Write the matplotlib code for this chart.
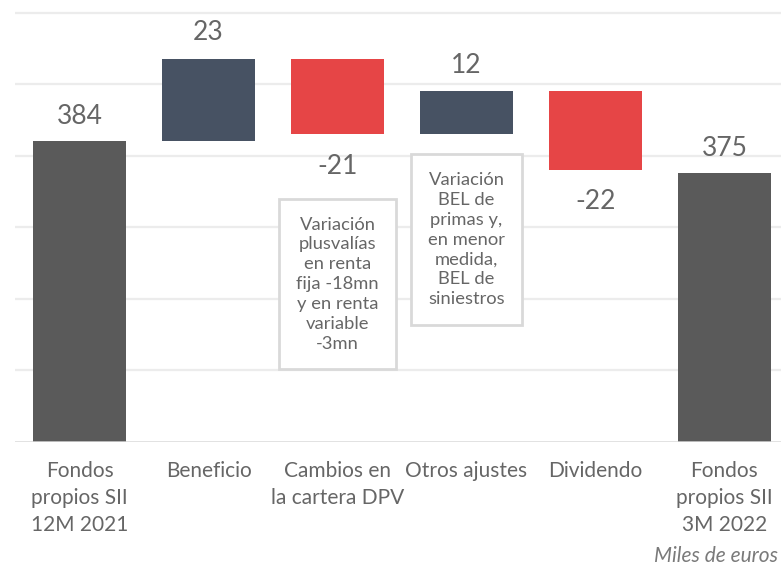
import numpy as np
import matplotlib.pyplot as plt

# --- Data ---
categories = ['Fondos\npropios SII\n12M 2021', 'Beneficio', 'Cambios en\nla cartera DPV',
              'Otros ajustes', 'Dividendo', 'Fondos\npropios SII\n3M 2022']
values = [384, 23, -21, 12, -22, 375]
kinds = ['total', 'delta', 'delta', 'delta', 'delta', 'total']
value_labels = ['384', '23', '-21', '12', '-22', '375']
notes = {2: 'Variación\nplusvalías\nen renta\nfija -18mn\ny en renta\nvariable\n-3mn',
         3: 'Variación\nBEL de\nprimas y,\nen menor\nmedida,\nBEL de\nsiniestros'}
note_y = {2: 344, 3: 356.5}
unit_label = 'Miles de euros'

# --- Colours ---
c_total = '#5a5a5a'
c_up = '#475263'
c_down = '#e64546'
c_text = '#666666'

plt.rcParams['font.family'] = ['Lato', 'DejaVu Sans']

fig = plt.figure(figsize=(7.81, 5.68), dpi=100)
ax = fig.add_axes([15 / 781, 126.5 / 568, 774 / 781, 441.5 / 568])

y_min, y_max = 300, 423.5
ax.set_xlim(-0.5, 5.5)
ax.set_ylim(y_min, y_max)

# gridlines
for g in np.arange(320, 421, 20):
    ax.axhline(g, color='#ececec', lw=1.6, zorder=0)
ax.axhline(y_min, color='#d9d9d9', lw=1.8, zorder=3)

# --- Waterfall bars ---
running = 0
x = np.arange(len(values))
for i, (v, k) in enumerate(zip(values, kinds)):
    if k == 'total':
        bottom, height, color = y_min, v - y_min, c_total
        running = v
        y_lab, off = v, 25
    else:
        start = running
        running = running + v
        bottom = min(start, running)
        height = abs(v)
        color = c_up if v > 0 else c_down
        y_lab, off = running, (26 if v > 0 else -32)
    ax.bar(x[i], height, bottom=bottom, width=0.72, color=color, zorder=2)
    ax.annotate(value_labels[i], (x[i], y_lab), xytext=(0, off), textcoords='offset pixels',
                ha='center', va='center', fontsize=19, color=c_text)

# --- Explanatory boxes ---
for i, txt in notes.items():
    ax.text(x[i], note_y[i], txt, ha='center', va='center', fontsize=13.2,
            color=c_text, linespacing=1.3,
            bbox=dict(boxstyle='square,pad=0.95', fc='white', ec='#d9d9d9', lw=2))

# --- Axes styling ---
ax.set_xticks(x)
ax.set_xticklabels(categories, fontsize=15, color=c_text, linespacing=1.45)
ax.tick_params(axis='x', length=0, pad=14)
ax.set_yticks([])
for s in ax.spines.values():
    s.set_visible(False)

fig.text(778 / 781, 1 - 556 / 568, unit_label, ha='right', va='center', fontsize=15,
         style='italic', color='#7a7a7a')

fig.savefig('out.png', dpi=100)
